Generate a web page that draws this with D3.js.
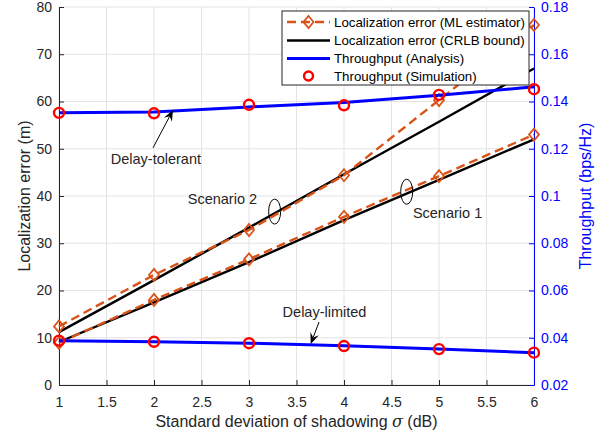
<!DOCTYPE html>
<html>
<head>
<meta charset="utf-8">
<script src="https://cdn.jsdelivr.net/npm/d3@7"></script>
<style>
  html, body { margin: 0; padding: 0; background: #fff; }
  svg { display: block; font-family: "Liberation Sans", Arial, Helvetica, sans-serif; }
</style>
</head>
<body>
<svg id="chart" width="609" height="436"></svg>
<script>
// Shadowing standard deviation (dB)
const sigma = [1, 2, 3, 4, 5, 6];

// Localization error (m), left axis
const mlScenario2   = [12.4, 23.3, 32.8, 44.4, 60.3, 76.2];
const crlbScenario2 = [11.2, 22.2, 33.3, 44.6, 55.7, 67.0];
const mlScenario1   = [8.9, 18.0, 26.6, 35.6, 44.2, 53.0];
const crlbScenario1 = [9.1, 17.5, 26.0, 34.9, 43.4, 52.0];

// Throughput (bps/Hz), right axis
const tputTolerantAnalysis = [0.1352, 0.1356, 0.1377, 0.1396, 0.1426, 0.1462];
const tputTolerantSim      = [0.1352, 0.1350, 0.1386, 0.1384, 0.1428, 0.1452];
const tputLimitedAnalysis  = [0.0387, 0.0383, 0.0377, 0.0366, 0.0352, 0.0337];
const tputLimitedSim       = [0.0388, 0.0383, 0.0377, 0.0365, 0.0352, 0.0337];

// Tick values
const xTicks  = [1, 1.5, 2, 2.5, 3, 3.5, 4, 4.5, 5, 5.5, 6];
const yLTicks = [0, 10, 20, 30, 40, 50, 60, 70, 80];
const yRTicks = [0.02, 0.04, 0.06, 0.08, 0.1, 0.12, 0.14, 0.16, 0.18];

const legendItems = [
  { label: "Localization error (ML estimator)", kind: "ml" },
  { label: "Localization error (CRLB bound)", kind: "crlb" },
  { label: "Throughput (Analysis)", kind: "ana" },
  { label: "Throughput (Simulation)", kind: "sim" }
];

const ORANGE = "#D95319", BLUE = "#0000FF", RED = "#FF0000", TXT = "#262626";

const svg = d3.select("#chart");
const m = { left: 59, right: 534, top: 7, bottom: 385 };

const x  = d3.scaleLinear().domain([1, 6]).range([m.left, m.right]);
const yL = d3.scaleLinear().domain([0, 80]).range([m.bottom, m.top]);
const yR = d3.scaleLinear().domain([0.02, 0.18]).range([m.bottom, m.top]);

// Grid
const grid = svg.append("g");
grid.selectAll(".gx").data(xTicks).join("line")
  .attr("x1", d => x(d)).attr("x2", d => x(d))
  .attr("y1", m.top).attr("y2", m.bottom)
  .attr("stroke", "#e3e3e3").attr("stroke-width", 1);
grid.selectAll(".gy").data(yLTicks).join("line")
  .attr("x1", m.left).attr("x2", m.right)
  .attr("y1", d => yL(d)).attr("y2", d => yL(d))
  .attr("stroke", "#e3e3e3").attr("stroke-width", 1);

// Axes (ticks point inward)
const fmt = d => String(d);
const xAxis = svg.append("g").attr("transform", `translate(0,${m.bottom})`)
  .call(d3.axisBottom(x).tickValues(xTicks).tickFormat(fmt).tickSizeInner(-5).tickSizeOuter(0).tickPadding(12));
xAxis.select(".domain").attr("stroke", "#262626");
xAxis.selectAll(".tick line").attr("stroke", "#262626");
xAxis.selectAll("text").attr("fill", TXT).style("font-size", "14px");

const yLAxis = svg.append("g").attr("transform", `translate(${m.left},0)`)
  .call(d3.axisLeft(yL).tickValues(yLTicks).tickFormat(fmt).tickSizeInner(-5).tickSizeOuter(0).tickPadding(7));
yLAxis.select(".domain").attr("stroke", "#262626");
yLAxis.selectAll(".tick line").attr("stroke", "#262626");
yLAxis.selectAll("text").attr("fill", TXT).style("font-size", "14px");

const yRAxis = svg.append("g").attr("transform", `translate(${m.right},0)`)
  .call(d3.axisRight(yR).tickValues(yRTicks).tickFormat(d => String(+d.toFixed(2))).tickSizeInner(-5).tickSizeOuter(0).tickPadding(7));
yRAxis.select(".domain").attr("stroke", BLUE);
yRAxis.selectAll(".tick line").attr("stroke", BLUE);
yRAxis.selectAll("text").attr("fill", BLUE).style("font-size", "14px");

// Axis titles
svg.append("text").attr("x", (m.left + m.right) / 2).attr("y", 427)
  .attr("text-anchor", "middle").attr("fill", TXT).style("font-size", "16px")
  .html('Standard deviation of shadowing <tspan font-family="DejaVu Serif" font-style="italic">σ</tspan> (dB)');
svg.append("text").attr("transform", `translate(30,${(m.top + m.bottom) / 2}) rotate(-90)`)
  .attr("text-anchor", "middle").attr("fill", TXT).style("font-size", "16px")
  .text("Localization error (m)");
svg.append("text").attr("transform", `translate(591,${(m.top + m.bottom) / 2}) rotate(-90)`)
  .attr("text-anchor", "middle").attr("fill", BLUE).style("font-size", "16px")
  .text("Throughput (bps/Hz)");

const plot = svg.append("g");
const lineL = d3.line().x((d, i) => x(sigma[i])).y(d => yL(d));
const lineR = d3.line().x((d, i) => x(sigma[i])).y(d => yR(d));

// CRLB curves
[crlbScenario2, crlbScenario1].forEach(s => {
  plot.append("path").datum(s).attr("d", lineL)
    .attr("fill", "none").attr("stroke", "#000").attr("stroke-width", 2.4);
});

// ML estimator curves with diamond markers
const diamond = (cx, cy) => `M${cx},${cy - 6}L${cx + 5},${cy}L${cx},${cy + 6}L${cx - 5},${cy}Z`;
[mlScenario2, mlScenario1].forEach(s => {
  plot.append("path").datum(s).attr("d", lineL)
    .attr("fill", "none").attr("stroke", ORANGE).attr("stroke-width", 2.4)
    .attr("stroke-dasharray", "9,5");
  plot.selectAll(null).data(s).join("path")
    .attr("d", (d, i) => diamond(x(sigma[i]), yL(d)))
    .attr("fill", "none").attr("stroke", ORANGE).attr("stroke-width", 1.8);
});

// Throughput analysis curves
[tputTolerantAnalysis, tputLimitedAnalysis].forEach(s => {
  plot.append("path").datum(s).attr("d", lineR)
    .attr("fill", "none").attr("stroke", BLUE).attr("stroke-width", 3);
});

// Throughput simulation markers
[tputTolerantSim, tputLimitedSim].forEach(s => {
  plot.selectAll(null).data(s).join("circle")
    .attr("cx", (d, i) => x(sigma[i])).attr("cy", d => yR(d)).attr("r", 5)
    .attr("fill", "none").attr("stroke", RED).attr("stroke-width", 2.4);
});

// Annotations (in data coordinates of the left axis)
const ann = svg.append("g").attr("fill", TXT).style("font-size", "14.5px");
function arrow(x0, y0, x1, y1) {
  const px0 = x(x0), py0 = yL(y0), px1 = x(x1), py1 = yL(y1);
  const ang = Math.atan2(py1 - py0, px1 - px0);
  const L = 11, W = 4.5, back = 7;
  const bx = px1 - L * Math.cos(ang), by = py1 - L * Math.sin(ang);
  const nx = -Math.sin(ang), ny = Math.cos(ang);
  const mx = px1 - back * Math.cos(ang), my = py1 - back * Math.sin(ang);
  ann.append("line").attr("x1", px0).attr("y1", py0).attr("x2", mx).attr("y2", my)
    .attr("stroke", "#000").attr("stroke-width", 1);
  ann.append("path")
    .attr("d", `M${px1},${py1}L${bx + W * nx},${by + W * ny}L${mx},${my}L${bx - W * nx},${by - W * ny}Z`)
    .attr("fill", "#000");
}
function label(tx, ty, str) {
  ann.append("text").attr("x", x(tx)).attr("y", yL(ty)).attr("dy", "0.35em")
    .attr("text-anchor", "middle").text(str);
}
function ring(cx, cy) {
  ann.append("ellipse").attr("cx", x(cx)).attr("cy", yL(cy)).attr("rx", 6).attr("ry", 12.5)
    .attr("fill", "none").attr("stroke", "#000").attr("stroke-width", 1);
}
label(2.02, 47.8, "Delay-tolerant");
arrow(1.99, 50.2, 2.2, 58.2);
label(3.795, 15.45, "Delay-limited");
arrow(3.737, 13.33, 3.65, 8.68);
label(2.72, 39.4, "Scenario 2");
ring(3.27, 36.7);
label(5.09, 36.4, "Scenario 1");
ring(4.66, 40.9);

// Legend
const lg = svg.append("g").attr("transform", "translate(282,11)");
lg.append("rect").attr("width", 247).attr("height", 74)
  .attr("fill", "#fff").attr("stroke", "#262626").attr("stroke-width", 1);
const rowY = [11, 29.5, 47.5, 65];
legendItems.forEach((it, i) => {
  const g = lg.append("g").attr("transform", `translate(0,${rowY[i]})`);
  if (it.kind === "ml") {
    g.append("line").attr("x1", 5).attr("x2", 48).attr("stroke", ORANGE)
      .attr("stroke-width", 2.4).attr("stroke-dasharray", "9,5");
    g.append("path").attr("d", diamond(26.5, 0)).attr("fill", "none")
      .attr("stroke", ORANGE).attr("stroke-width", 1.8);
  } else if (it.kind === "crlb") {
    g.append("line").attr("x1", 5).attr("x2", 48).attr("stroke", "#000").attr("stroke-width", 2.4);
  } else if (it.kind === "ana") {
    g.append("line").attr("x1", 5).attr("x2", 48).attr("stroke", BLUE).attr("stroke-width", 3);
  } else {
    g.append("circle").attr("cx", 26.5).attr("cy", 0).attr("r", 4.5)
      .attr("fill", "none").attr("stroke", RED).attr("stroke-width", 2.4);
  }
  g.append("text").attr("x", 52).attr("dy", "0.35em").attr("fill", "#000")
    .style("font-size", "13.3px").text(it.label);
});
</script>
</body>
</html>
